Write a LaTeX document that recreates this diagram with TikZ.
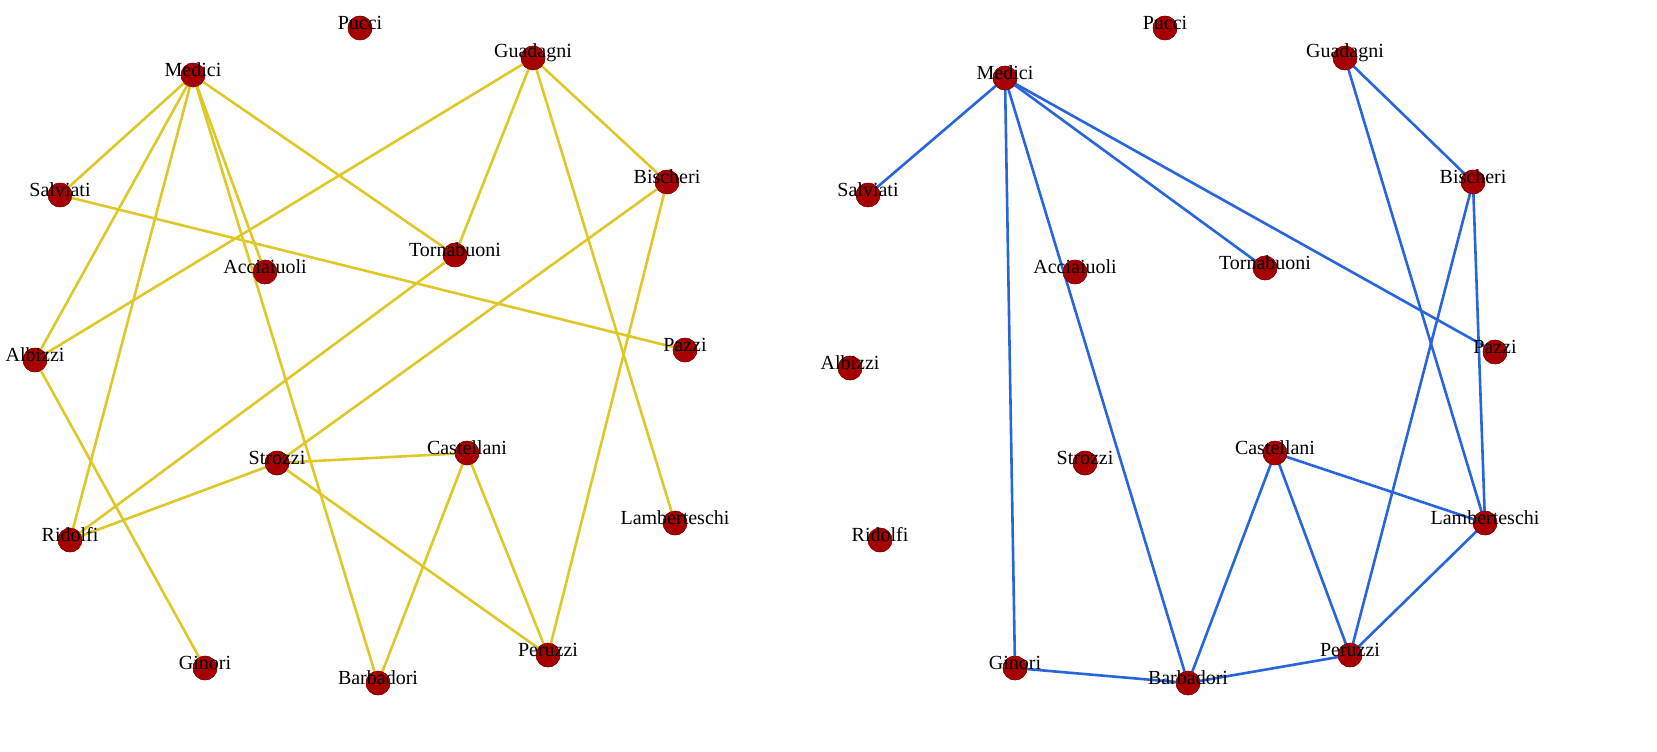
\documentclass[tikz,border=0pt]{standalone}
\usepackage{fontspec}
\setmainfont{Liberation Serif}
\begin{document}
\begin{tikzpicture}[x=1pt,y=-1pt,
  v/.style={circle,fill=red!65!black,draw=red!50!black,minimum size=24pt,inner sep=0pt},
  lab/.style={font=\fontsize{20}{20}\selectfont},
  ey/.style={draw={rgb,255:red,222;green,200;blue,40},line width=2.6pt},
  eb/.style={draw={rgb,255:red,40;green,100;blue,220},line width=2.6pt}]
\useasboundingbox (0,0) rectangle (1657,752);
\def\placenodes#1#2{%
\foreach \n/\x/\y in {#2} {\node[v] (#1\n) at (\x,\y) {};}}
\placenodes{L}{Pucci/360/28,Medici/193/75,Guadagni/533/58,Salviati/60/195,Bischeri/667/182,Tornabuoni/455/255,Acciaiuoli/265/272,Pazzi/685/350,Albizzi/35/360,Strozzi/277/463,Castellani/467/453,Ridolfi/70/540,Lamberteschi/675/523,Ginori/205/668,Barbadori/378/683,Peruzzi/548/655}
\placenodes{R}{Pucci/1165/28,Medici/1005/78,Guadagni/1345/58,Salviati/868/195,Bischeri/1473/182,Tornabuoni/1265/268,Acciaiuoli/1075/272,Pazzi/1495/352,Albizzi/850/368,Strozzi/1085/463,Castellani/1275/453,Ridolfi/880/540,Lamberteschi/1485/523,Ginori/1015/668,Barbadori/1188/683,Peruzzi/1350/655}
\foreach \a/\b in {Medici/Salviati,Medici/Albizzi,Medici/Ridolfi,Medici/Acciaiuoli,Medici/Barbadori,Medici/Tornabuoni,Guadagni/Albizzi,Guadagni/Tornabuoni,Guadagni/Bischeri,Guadagni/Lamberteschi,Salviati/Pazzi,Bischeri/Strozzi,Bischeri/Peruzzi,Tornabuoni/Ridolfi,Albizzi/Ginori,Strozzi/Castellani,Strozzi/Ridolfi,Strozzi/Peruzzi,Castellani/Barbadori,Castellani/Peruzzi}
  \draw[ey] (L\a.center) -- (L\b.center);
\foreach \a/\b in {Medici/Salviati,Medici/Ginori,Medici/Barbadori,Medici/Tornabuoni,Medici/Pazzi,Guadagni/Bischeri,Guadagni/Lamberteschi,Bischeri/Lamberteschi,Bischeri/Peruzzi,Castellani/Lamberteschi,Castellani/Barbadori,Castellani/Peruzzi,Lamberteschi/Peruzzi,Ginori/Barbadori,Barbadori/Peruzzi}
  \draw[eb] (R\a.center) -- (R\b.center);
\foreach \s in {L,R}{
\foreach \n in {Pucci,Medici,Guadagni,Salviati,Bischeri,Tornabuoni,Acciaiuoli,Pazzi,Albizzi,Strozzi,Castellani,Ridolfi,Lamberteschi,Ginori,Barbadori,Peruzzi}{
  \node[v] at (\s\n) {};
  \node[lab] at ([yshift=5pt]\s\n.center) {\n};}}
\end{tikzpicture}
\end{document}
